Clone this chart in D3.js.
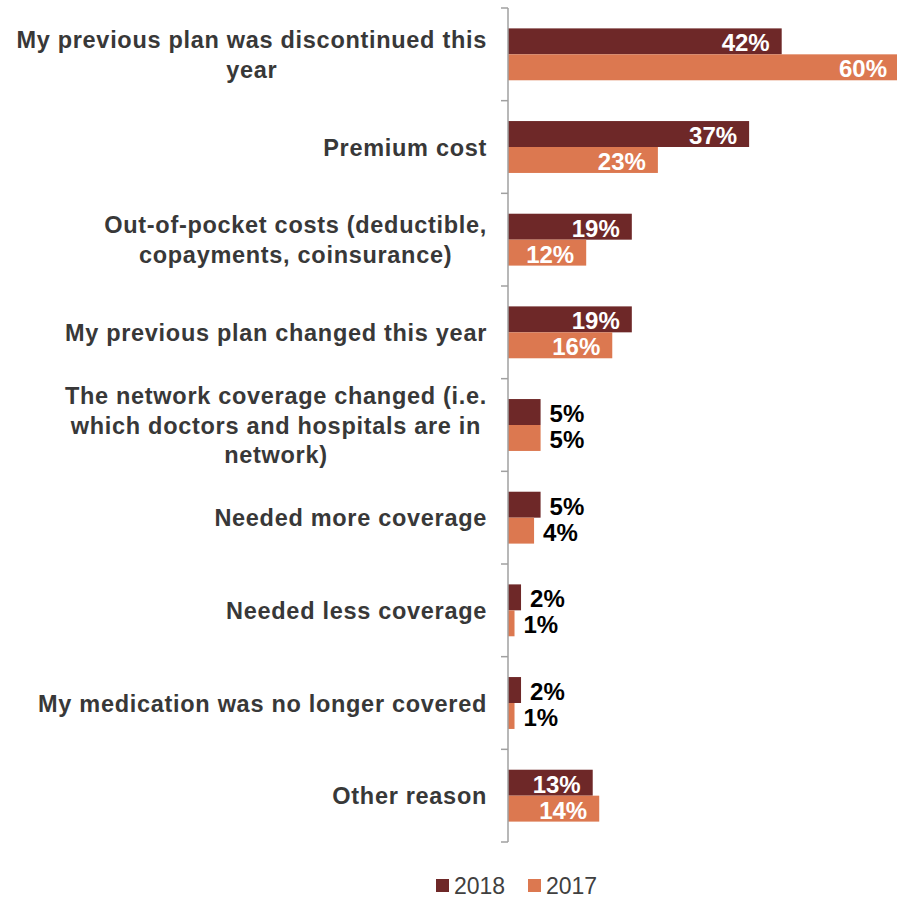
<!DOCTYPE html>
<html>
<head>
<meta charset="utf-8">
<script src="https://cdn.jsdelivr.net/npm/d3@7/dist/d3.min.js"></script>
<style>
  html, body { margin: 0; padding: 0; background: #fff; }
  svg { display: block; }
</style>
</head>
<body>
<svg id="chart" width="897" height="900"></svg>
<script>
// Reasons for switching plans, share of respondents by survey year
const categories = [
  "My previous plan was discontinued this\nyear",
  "Premium cost",
  "Out-of-pocket costs (deductible,\ncopayments, coinsurance)",
  "My previous plan changed this year",
  "The network coverage changed (i.e.\nwhich doctors and hospitals are in\nnetwork)",
  "Needed more coverage",
  "Needed less coverage",
  "My medication was no longer covered",
  "Other reason"
];
const seriesNames = ["2018", "2017"];
const values2018 = [42, 37, 19, 19, 5, 5, 2, 2, 13];
const values2017 = [60, 23, 12, 16, 5, 4, 1, 1, 14];
const seriesColors = ["#6e2828", "#dc7850"];

const rows = categories.map((c, i) => ({
  category: c,
  values: [
    { series: seriesNames[0], value: values2018[i] },
    { series: seriesNames[1], value: values2017[i] }
  ]
}));

const svg = d3.select("#chart");
const axisX = 508;
const plotTop = 8, plotBottom = 842;

const y = d3.scaleBand()
  .domain(categories)
  .range([plotTop, plotBottom])
  .paddingInner(0.44)
  .paddingOuter(0.22);

const ySub = d3.scaleBand()
  .domain(seriesNames)
  .range([0, y.bandwidth()]);

const x = d3.scaleLinear().domain([0, 60]).range([axisX, 899]);

const color = d3.scaleOrdinal().domain(seriesNames).range(seriesColors);

// Bars
const groups = svg.append("g").selectAll("g")
  .data(rows)
  .join("g")
  .attr("transform", d => `translate(0,${y(d.category)})`);

groups.selectAll("rect")
  .data(d => d.values)
  .join("rect")
  .attr("x", x(0))
  .attr("y", d => ySub(d.series))
  .attr("width", d => x(d.value) - x(0))
  .attr("height", ySub.bandwidth())
  .attr("fill", d => color(d.series));

// Value labels: inside the bar end for long bars, just past it for short ones
groups.selectAll("text")
  .data(d => d.values)
  .join("text")
  .attr("font-family", "'Liberation Sans', Arial, sans-serif")
  .attr("font-weight", "bold")
  .attr("font-size", 24)
  .attr("y", d => ySub(d.series) + ySub.bandwidth() / 2 + 10)
  .attr("x", d => d.value >= 10 ? x(d.value) - 12 : x(d.value) + 9)
  .attr("text-anchor", d => d.value >= 10 ? "end" : "start")
  .attr("fill", d => d.value >= 10 ? "#ffffff" : "#000000")
  .text(d => d.value + "%");

// Category axis: vertical rule with ticks at band boundaries
const axisG = svg.append("g");
axisG.append("line")
  .attr("x1", axisX).attr("x2", axisX)
  .attr("y1", plotTop).attr("y2", plotBottom)
  .attr("stroke", "#a0a0a0").attr("stroke-width", 1.5);
const step = y.step();
axisG.selectAll("line.tick")
  .data(d3.range(categories.length + 1))
  .join("line")
  .attr("class", "tick")
  .attr("x1", axisX - 7).attr("x2", axisX)
  .attr("y1", i => plotTop + i * step).attr("y2", i => plotTop + i * step)
  .attr("stroke", "#a0a0a0").attr("stroke-width", 1.5);

// Category labels, centred lines, block right-aligned against the axis
const labelRight = 487;
const lineGap = 29.5;
categories.forEach(c => {
  const lines = c.split("\n");
  const cy = y(c) + y.bandwidth() / 2;
  const g = svg.append("g");
  const texts = g.selectAll("text")
    .data(lines)
    .join("text")
    .attr("font-family", "'Liberation Sans', Arial, sans-serif")
    .attr("font-weight", "bold")
    .attr("font-size", 23.5)
    .attr("letter-spacing", "0.7px")
    .attr("fill", "#383838")
    .attr("text-anchor", "middle")
    .attr("y", (d, i) => cy + (i - (lines.length - 1) / 2) * lineGap + 8.5)
    .text(d => d);
  let maxW = 0;
  texts.each(function () { maxW = Math.max(maxW, this.getComputedTextLength()); });
  texts.attr("x", labelRight - maxW / 2);
});

// Legend
const legend = svg.append("g");
const legendItems = [
  { name: seriesNames[0], x: 436 },
  { name: seriesNames[1], x: 528 }
];
legendItems.forEach(item => {
  legend.append("rect")
    .attr("x", item.x).attr("y", 879)
    .attr("width", 13).attr("height", 13)
    .attr("fill", color(item.name));
  legend.append("text")
    .attr("x", item.x + 18).attr("y", 894)
    .attr("font-family", "'Liberation Sans', Arial, sans-serif")
    .attr("font-size", 23)
    .attr("fill", "#404040")
    .text(item.name);
});
</script>
</body>
</html>
